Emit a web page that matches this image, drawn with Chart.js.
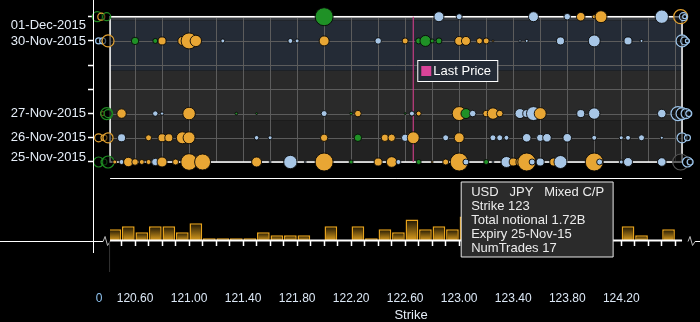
<!DOCTYPE html>
<html>
<head>
<meta charset="utf-8">
<script src="https://cdn.jsdelivr.net/npm/chart.js@4.4.0/dist/chart.umd.min.js"></script>
<style>
  html, body { margin: 0; padding: 0; background: #000; }
</style>
</head>
<body>
<canvas id="chart" width="700" height="322"></canvas>
<script>
// Expiry rows, as days after 25-Nov-2015
const expiryLabels = ['25-Nov-2015', '26-Nov-2015', '27-Nov-2015', '28-Nov-2015', '29-Nov-2015', '30-Nov-2015', '01-Dec-2015'];
const expiryShort = ['25-Nov-15', '26-Nov-15', '27-Nov-15', '28-Nov-15', '29-Nov-15', '30-Nov-15', '01-Dec-15'];
const dayTicks = [0, 1, 2, 3, 4, 5, 6];
const labelledDays = [0, 1, 2, 5, 6];

// Strike axis
const strikeTicks = [120.5, 120.6, 120.7, 120.8, 120.9, 121.0, 121.1, 121.2, 121.3, 121.4, 121.5, 121.6, 121.7, 121.8, 121.9,
  122.0, 122.1, 122.2, 122.3, 122.4, 122.5, 122.6, 122.7, 122.8, 122.9, 123.0, 123.1, 123.2, 123.3, 123.4, 123.5,
  123.6, 123.7, 123.8, 123.9, 124.0, 124.1, 124.2, 124.3, 124.4, 124.5, 124.6];
const strikeLabels = ['120.60', '121.00', '121.40', '121.80', '122.20', '122.60', '123.00', '123.40', '123.80', '124.20'];
const gridStrikes = [120.6, 120.8, 121.0, 121.2, 121.4, 121.6, 121.8, 122.0, 122.2, 122.4, 122.6, 122.8, 123.0, 123.2,
  123.4, 123.6, 123.8, 124.0, 124.2, 124.4, 124.6];
const lastPrice = 122.66;

// Bubbles per expiry: strike, total notional (B), kind (o = orange, b = blue, g = green)
const strikes25 = [120.45, 120.50, 120.55, 120.60, 120.65, 120.70, 120.75, 120.80, 120.90, 121.00, 121.10, 121.50, 121.60,
  121.75, 121.86, 122.00, 122.20, 122.40, 122.50, 122.55, 122.70, 122.80, 122.90, 123.00, 123.05, 123.20, 123.25, 123.35,
  123.40, 123.45, 123.50, 123.54, 123.60, 123.70, 123.75, 124.00, 124.04, 124.20, 124.25, 124.50];
const notional25 = [0.085, 0.13, 0.47, 0.23, 0.13, 0.13, 0.29, 0.53, 0.19, 1.46, 1.36, 0.53, 0.02, 0.95, 0.02, 1.72, 0.085,
  0.34, 0.60, 0.13, 0.13, 0.02, 0.19, 1.72, 0.19, 0.13, 0.02, 0.64, 0.34, 0.34, 1.72, 0.19, 0.34, 0.34, 0.90, 1.72, 0.19,
  0.085, 0.43, 0.39];
const kinds25 = 'oboooobooo oobbbogoob gooobgbboo obbobobbbb';

const strikes26 = [120.50, 120.70, 120.80, 120.85, 120.95, 121.00, 121.50, 121.60, 122.00, 122.25, 122.45, 122.50, 122.60,
  122.66, 122.90, 123.00, 123.25, 123.30, 123.35, 123.50, 123.60, 123.65, 123.80, 124.00, 124.20, 124.25, 124.35, 124.50];
const notional26 = [0.34, 0.19, 0.34, 0.34, 0.76, 0.76, 0.11, 0.085, 0.29, 0.29, 0.29, 0.29, 0.29, 0.76, 0.19, 0.53, 0.19,
  0.19, 0.13, 0.39, 0.29, 0.39, 0.39, 0.13, 0.085, 0.13, 0.19, 0.05];
const kinds26 = 'booooobbog oobobobbbb bbbbbbbb';

const strikes27 = [120.50, 120.75, 120.80, 121.00, 121.35, 121.50, 122.00, 122.20, 122.25, 122.60, 122.65, 122.70, 123.00,
  123.05, 123.10, 123.20, 123.25, 123.30, 123.45, 123.50, 123.55, 123.60, 123.90, 124.00, 124.50];
const notional27 = [0.47, 0.155, 0.06, 0.84, 0.04, 0.02, 0.19, 0.04, 0.23, 0.02, 0.13, 0.13, 1.04, 0.53, 0.23, 0.23, 0.69,
  0.23, 0.53, 0.34, 1.04, 0.76, 0.34, 0.69, 0.39];
const kinds27 = 'obboggbgog boogbooobb bobbb';

const strikes30 = [120.60, 120.75, 120.80, 120.95, 121.00, 121.05, 121.25, 121.75, 121.80, 122.00, 122.40, 122.60, 122.70,
  122.75, 122.80, 122.85, 123.00, 123.05, 123.15, 123.20, 123.25, 123.45, 123.50, 123.75, 124.00, 124.25, 124.35];
const notional30 = [0.29, 0.13, 0.34, 0.43, 1.36, 0.69, 0.085, 0.13, 0.085, 0.53, 0.23, 0.19, 0.19, 0.64, 0.085, 0.19, 0.43,
  0.43, 0.19, 0.19, 0.02, 0.03, 0.05, 0.34, 0.76, 0.34, 0.05];
const kinds30 = 'ggoooobbbo boggggoooo obbbbbb';

const strikes01 = [122.00, 122.85, 123.00, 123.55, 123.80, 123.90, 124.00, 124.05, 124.50];
const notional01 = [1.72, 0.53, 0.19, 0.53, 0.23, 0.39, 0.085, 0.76, 0.95];
const kinds01 = 'gbbbbooob';

// Out-of-range trades squeezed at the plot edges
const edgeDays = [6, 6, 6, 5, 5, 5, 2, 2, 2, 1, 1, 1, 0, 0, 0,
  6, 6, 6, 5, 5, 5, 2, 2, 2, 2, 1, 1, 0, 0, 0];
const edgeStrikes = [120.32, 120.35, 120.39, 120.33, 120.36, 120.40, 120.36, 120.39, 120.40, 120.33, 120.37, 120.40, 120.33, 120.37, 120.40,
  124.64, 124.66, 124.67, 124.65, 124.67, 124.69, 124.62, 124.65, 124.68, 124.70, 124.65, 124.69, 124.64, 124.69, 124.71];
const edgeNotional = [0.53, 0.26, 0.34, 0.19, 0.19, 0.76, 0.085, 0.76, 0.34, 0.34, 0.19, 0.53, 0.53, 0.19, 0.76,
  1.04, 0.34, 0.085, 0.76, 0.34, 0.085, 1.04, 0.76, 0.53, 0.19, 0.53, 0.19, 1.36, 0.53, 0.19];
const edgeKinds = 'gogbbo oggoooggg obbbbbbbbbbbkbb';

// Notional per 0.1 strike bin (B); bins under the tooltip are estimates
const binStarts = [120.4, 120.5, 120.6, 120.7, 120.8, 120.9, 121.0, 121.1, 121.2, 121.3, 121.4, 121.5, 121.6, 121.7,
  121.8, 121.9, 122.0, 122.1, 122.2, 122.3, 122.4, 122.5, 122.6, 122.7, 122.8, 122.9, 123.0, 123.1, 123.2, 123.3,
  123.4, 123.5, 123.6, 123.7, 123.8, 123.9, 124.0, 124.1, 124.2, 124.3, 124.4, 124.5];
const binNotional = [1.95, 2.45, 1.45, 2.45, 2.45, 1.45, 2.95, 0.45, 0.45, 0.45, 0.45, 1.45, 0.95, 0.95,
  0.95, 0, 2.45, 0, 2.45, 0.45, 1.95, 1.45, 3.6, 1.95, 2.45, 1.95, 4.1, 1.5, 2.0, 1.0,
  2.5, 3.0, 1.5, 2.0, 1.5, 2.5, 3.6, 0, 2.45, 0.95, 0, 1.95];

const tipHeader = 'USD   JPY   Mixed C/P';
const tipTrades = 17;

const FONT = "'Liberation Sans', Arial, sans-serif";
const kindColor = { o: '#e8a634', b: '#a7c6e6', g: '#1f9126', k: '#151515' };
const kindEdge = { o: '#e0a030', b: '#9cc4ea', g: '#1e8a22', k: '#555555' };

// bubble radius from notional: 1.72B is drawn at 9px
function radiusOf(n) { return 9 * Math.sqrt(n / 1.72); }

function rowPoints(day, strikes, notional, kinds) {
  const k = kinds.replace(/ /g, '');
  return strikes.map((s, i) => ({ x: s, y: day, r: radiusOf(notional[i]), n: notional[i], k: k[i] }));
}

function rowDataset(day, strikes, notional, kinds) {
  return {
    type: 'bubble',
    label: expiryLabels[day],
    data: rowPoints(day, strikes, notional, kinds),
    backgroundColor: c => kindColor[c.raw ? c.raw.k : 'o'],
    borderColor: 'rgba(8,8,8,0.9)',
    borderWidth: 1,
    hoverRadius: 0,
    clip: false,
    yAxisID: 'y'
  };
}

const edgeK = edgeKinds.replace(/ /g, '');
const edgePoints = edgeStrikes.map((s, i) => ({ x: s, y: edgeDays[i], r: radiusOf(edgeNotional[i]), n: edgeNotional[i], k: edgeK[i] }));

Chart.Tooltip.positioners.below = function (items) {
  if (!items.length) return false;
  const el = items[0].element;
  return { x: el.x + 2, y: el.y + 20 };
};

function zigzag(ctx, x0, y) {
  ctx.beginPath();
  ctx.moveTo(x0, y);
  ctx.lineTo(x0 + 2, y - 5);
  ctx.lineTo(x0 + 4.5, y + 4);
  ctx.lineTo(x0 + 7, y);
  ctx.stroke();
}

const decor = {
  id: 'decor',
  beforeDatasetsDraw(chart) {
    const { ctx, scales: { x, y, yb } } = chart;
    const fl = x.getPixelForValue(120.415), fr = x.getPixelForValue(124.65);
    const ft = y.getPixelForValue(6), fb = y.getPixelForValue(0);
    ctx.save();
    // horizontal bands
    const bands = [[6, 5.84, '#363a40'], [5.84, 3.77, '#242b36'], [3.77, 1.71, '#2a2a2a'], [1.71, 0, '#222222']];
    bands.forEach(([a, b, col]) => {
      const ya = y.getPixelForValue(a), yb2 = y.getPixelForValue(b);
      ctx.fillStyle = col;
      ctx.fillRect(fl, ya, fr - fl, yb2 - ya);
    });
    ctx.strokeStyle = '#5c5c5c';
    ctx.lineWidth = 1;
    gridStrikes.forEach(v => {
      const px = Math.round(x.getPixelForValue(v)) + 0.5;
      ctx.beginPath(); ctx.moveTo(px, ft); ctx.lineTo(px, fb); ctx.stroke();
    });
    dayTicks.forEach(d => {
      const py = Math.round(y.getPixelForValue(d)) + 0.5;
      ctx.beginPath(); ctx.moveTo(fl, py); ctx.lineTo(fr, py); ctx.stroke();
    });
    ctx.strokeStyle = '#ffffff';
    ctx.lineWidth = 1.5;
    ctx.strokeRect(fl, ft, fr - fl, fb - ft);
    // bar panel top line
    ctx.lineWidth = 1;
    ctx.beginPath(); ctx.moveTo(fl, yb.top + 0.5); ctx.lineTo(fr, yb.top + 0.5); ctx.stroke();
    ctx.restore();
  },
  afterDatasetsDraw(chart) {
    const { ctx, scales: { x, y, yb } } = chart;
    const fl = x.getPixelForValue(120.415), fr = x.getPixelForValue(124.65);
    const ft = y.getPixelForValue(6), fb = y.getPixelForValue(0);
    const base = yb.getPixelForValue(0);
    ctx.save();
    // axis lines
    ctx.strokeStyle = '#ffffff';
    ctx.lineWidth = 2;
    ctx.beginPath(); ctx.moveTo(fl, base - 0.5); ctx.lineTo(fr, base - 0.5); ctx.stroke();
    ctx.lineWidth = 1;
    ctx.beginPath(); ctx.moveTo(0, base + 0.5); ctx.lineTo(fl - 7, base + 0.5); ctx.stroke();
    ctx.beginPath(); ctx.moveTo(fr + 13, base + 0.5); ctx.lineTo(chart.width, base + 0.5); ctx.stroke();
    ctx.beginPath(); ctx.moveTo(93.5, 0); ctx.lineTo(93.5, base + 12); ctx.stroke();
    ctx.strokeStyle = '#bbbbbb';
    zigzag(ctx, fl - 7, base + 0.5);
    zigzag(ctx, fr + 6, base + 0.5);
    ctx.strokeStyle = '#333333';
    ctx.beginPath(); ctx.moveTo(fl - 0.5, base + 1); ctx.lineTo(fl - 0.5, base + 31); ctx.stroke();

    // expiry labels, kept inside the frame height
    ctx.font = '13px ' + FONT;
    ctx.fillStyle = '#e6eef8';
    ctx.textAlign = 'right';
    ctx.textBaseline = 'middle';
    labelledDays.forEach(d => {
      const py = Math.min(Math.max(y.getPixelForValue(d), ft + 8.5), fb - 5);
      ctx.fillText(expiryLabels[d], 86, py);
    });

    // zero of the notional panel and axis title
    ctx.font = '12px ' + FONT;
    ctx.fillStyle = '#8fc4f2';
    ctx.textAlign = 'center';
    ctx.fillText('0', 99, 299);
    ctx.font = '13px ' + FONT;
    ctx.fillStyle = '#e6eef8';
    ctx.fillText('Strike', 411, 315);

    // last price legend
    const lx = x.getPixelForValue(lastPrice) + 4;
    ctx.fillStyle = '#242b36';
    ctx.fillRect(lx, 60.5, 80, 21);
    ctx.strokeStyle = '#ffffff';
    ctx.lineWidth = 1;
    ctx.strokeRect(lx + 0.5, 60.5, 80, 21);
    ctx.fillStyle = '#d9449a';
    ctx.fillRect(lx + 4, 66, 10, 10);
    ctx.fillStyle = '#ffffff';
    ctx.textAlign = 'left';
    ctx.font = '13px ' + FONT;
    const lp = chart.data.datasets.find(d => d.label === 'Last Price');
    ctx.fillText(lp.label, lx + 16, 71.5);
    ctx.restore();
  }
};

function barFill(c) {
  const s = c.chart.scales.yb;
  if (c.type !== 'data' || !s || !c.parsed) return '#8a5e0c';
  const top = s.getPixelForValue(c.parsed.y), bottom = s.getPixelForValue(0);
  if (!isFinite(top) || !isFinite(bottom)) return '#8a5e0c';
  const g = c.chart.ctx.createLinearGradient(0, top, 0, bottom);
  g.addColorStop(0, '#1a1303');
  g.addColorStop(1, '#e2a21e');
  return g;
}

const datasets = [
  rowDataset(0, strikes25, notional25, kinds25),
  rowDataset(1, strikes26, notional26, kinds26),
  rowDataset(2, strikes27, notional27, kinds27),
  rowDataset(5, strikes30, notional30, kinds30),
  rowDataset(6, strikes01, notional01, kinds01),
  {
    type: 'bubble',
    label: 'Outside range',
    data: edgePoints,
    backgroundColor: 'rgba(0,0,0,0.55)',
    borderColor: c => kindEdge[c.raw ? c.raw.k : 'b'],
    borderWidth: 1.2,
    hoverRadius: 0,
    clip: false,
    yAxisID: 'y'
  },
  {
    type: 'line',
    label: 'Last Price',
    data: [{ x: lastPrice, y: 0 }, { x: lastPrice, y: 6 }],
    borderColor: '#c43d82',
    borderWidth: 1.2,
    pointRadius: 0,
    yAxisID: 'y'
  },
  {
    type: 'bar',
    label: 'Notional',
    data: binStarts.map((s, i) => ({ x: s + 0.05, y: binNotional[i] })),
    backgroundColor: barFill,
    borderColor: '#e6a21c',
    borderWidth: 1.5,
    categoryPercentage: 1,
    barPercentage: 0.94,
    clip: { left: -16, right: -18, top: 0, bottom: 0 },
    yAxisID: 'yb'
  }
];

const chart = new Chart(document.getElementById('chart'), {
  type: 'bubble',
  data: { datasets: datasets },
  options: {
    responsive: false,
    animation: false,
    devicePixelRatio: 1,
    layout: { padding: 0, autoPadding: false },
    scales: {
      x: {
        type: 'linear',
        min: 120.296,
        max: 124.783,
        offset: false,
        afterBuildTicks: s => { s.ticks = strikeTicks.map(v => ({ value: v })); },
        afterFit: s => { s.height = 81; s.paddingLeft = 0; s.paddingRight = 0; },
        grid: { offset: false, drawOnChartArea: false, tickLength: 5, tickColor: '#ffffff', tickWidth: 1.5 },
        border: { display: false },
        ticks: {
          color: '#dce8f6',
          font: { family: FONT, size: 12 },
          padding: 45,
          autoSkip: false,
          maxRotation: 0,
          callback: v => strikeLabels.includes(Number(v).toFixed(2)) ? Number(v).toFixed(2) : ''
        }
      },
      yb: {
        type: 'linear',
        position: 'left',
        stack: 'main',
        stackWeight: 63,
        min: 0,
        max: 10.5,
        afterFit: s => { s.width = 94; },
        grid: { display: false },
        border: { display: false },
        ticks: { display: false }
      },
      y: {
        type: 'linear',
        position: 'left',
        stack: 'main',
        stackWeight: 178,
        min: -0.661,
        max: 6.69,
        afterBuildTicks: s => { s.ticks = dayTicks.map(v => ({ value: v })); },
        afterFit: s => { s.width = 94; s.paddingTop = 0; s.paddingBottom = 0; },
        grid: { drawOnChartArea: false, tickLength: 6, tickColor: '#ffffff', tickWidth: 1.5 },
        border: { display: false },
        ticks: { display: false }
      }
    },
    plugins: {
      legend: { display: false },
      tooltip: {
        position: 'below',
        xAlign: 'left',
        yAlign: 'top',
        caretSize: 0,
        caretPadding: 0,
        cornerRadius: 0,
        displayColors: false,
        backgroundColor: '#2b2b2b',
        borderColor: '#e8e8e8',
        borderWidth: 1,
        titleColor: '#ececec',
        bodyColor: '#ececec',
        titleFont: { family: FONT, size: 13, weight: 'normal', lineHeight: 14 / 13 },
        bodyFont: { family: FONT, size: 13, lineHeight: 14 / 13 },
        titleMarginBottom: 0,
        titleSpacing: 0,
        bodySpacing: 0,
        padding: { top: 3, bottom: 2, left: 10, right: 9 },
        callbacks: {
          title: () => tipHeader,
          label: c => [
            'Strike ' + c.raw.x,
            'Total notional ' + c.raw.n.toFixed(2) + 'B',
            'Expiry ' + expiryShort[c.raw.y],
            'NumTrades ' + tipTrades
          ]
        }
      }
    }
  },
  plugins: [decor]
});

// show the tooltip for the 123 strike on 25-Nov
chart.tooltip.setActiveElements([{ datasetIndex: 0, index: strikes25.indexOf(123.00) }], { x: 0, y: 0 });
chart.update();
</script>
</body>
</html>
